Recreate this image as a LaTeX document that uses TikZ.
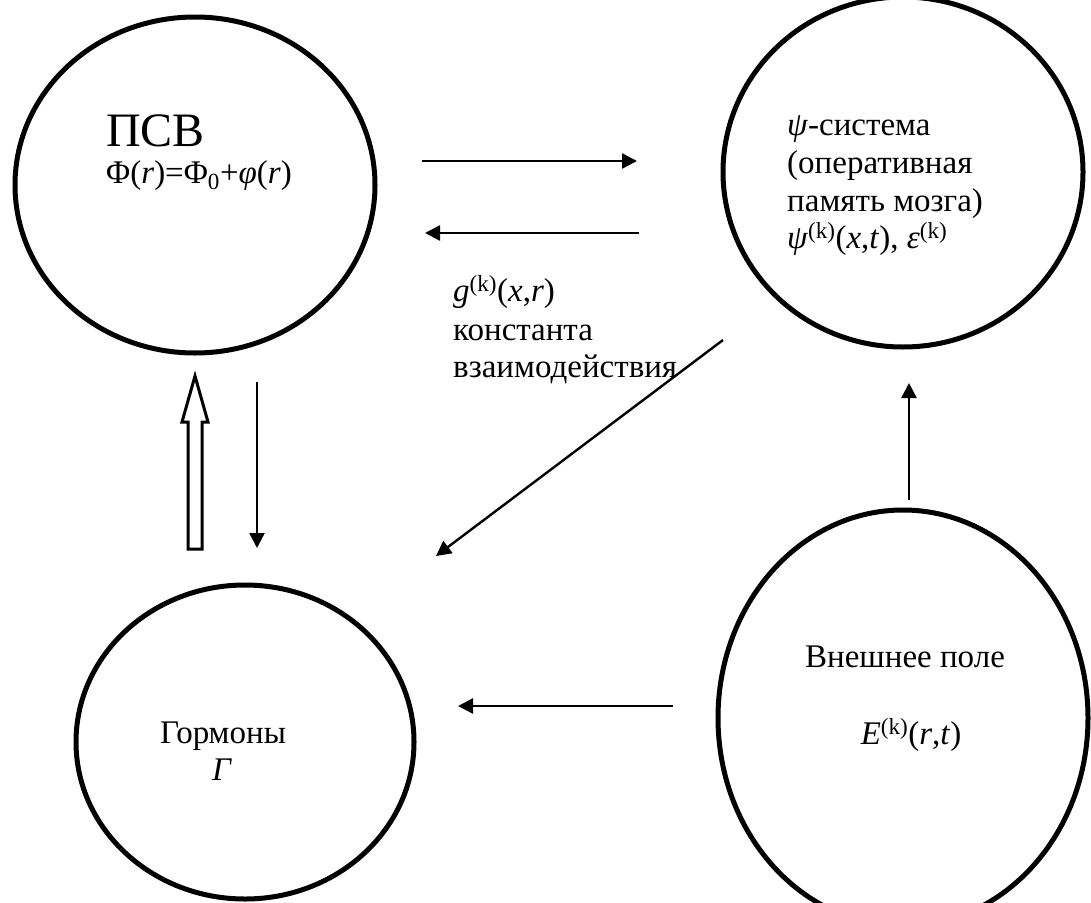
\documentclass[tikz,border=0pt]{standalone}
\usepackage{fontspec}
\setmainfont{Liberation Serif}
\usetikzlibrary{arrows.meta,shapes.geometric}
\begin{document}
\begin{tikzpicture}[x=1pt,y=-1pt,
  blob/.style={draw, ellipse, line width=5pt, inner sep=0pt},
  conn/.style={line width=2.4pt, -{Triangle[length=15pt,width=15pt]}},
  hollow/.style={draw, line width=3pt, line join=miter, fill=white},
  txt/.style={anchor=base west, inner sep=0pt, font=\fontsize{33}{38}\selectfont},
  ctxt/.style={anchor=base, inner sep=0pt, font=\fontsize{33}{38}\selectfont},
]
\useasboundingbox (0,0) rectangle (1091,902);

% circles
\node[blob, minimum width=360pt, minimum height=336pt] (psv) at (195,185) {};
\node[blob, minimum width=360pt, minimum height=350pt] (psi) at (903,172) {};
\node[blob, minimum width=338pt, minimum height=314pt] (horm) at (245,742) {};
\node[blob, minimum width=370pt, minimum height=416pt] (ext) at (903,718) {};

% texts
\node[txt, font=\fontsize{48}{50}\selectfont] (psvT) at (106,146) {ПСВ};
\node[txt] (psvF) at (106,183) {Φ(\textit{r})=Φ\textsubscript{0}+\textit{φ}(\textit{r})};

\node[txt] (psi1) at (787,135) {\textit{ψ}-система};
\node[txt] (psi2) at (787,173) {(оперативная};
\node[txt] (psi3) at (787,211) {память мозга)};
\node[txt] (psi4) at (787,248) {\textit{ψ}\textsuperscript{(k)}(\textit{x},\textit{t}), \textit{ε}\textsuperscript{(k)}};

\node[txt] (g1) at (453,301) {\textit{g}\textsuperscript{(k)}(\textit{x},\textit{r})};
\node[txt] (g2) at (453,340) {константа};
\node[txt] (g3) at (453,377) {взаимодействия};

\node[ctxt] (ext1) at (905,667) {Внешнее поле};
\node[ctxt] (ext2) at (911,744) {\textit{E}\textsuperscript{(k)}(\textit{r},\textit{t})};

\node[ctxt] (horm1) at (223,743) {Гормоны};
\node[ctxt] (horm2) at (222,780) {\textit{Г}};

% connector end points
\coordinate (a1s) at (422,161); \coordinate (a1e) at (637,161);
\coordinate (a2s) at (639,233); \coordinate (a2e) at (425,233);
\coordinate (dgs) at (723,340); \coordinate (dge) at (436,556);
\coordinate (dns) at (257,382); \coordinate (dne) at (257,548);
\coordinate (ups) at (909,500); \coordinate (upe) at (909,383);
\coordinate (lfs) at (673,706); \coordinate (lfe) at (458,706);
\coordinate (hb) at (195,549); \coordinate (ht) at (195,376);

\draw[conn] (a1s) -- (a1e);
\draw[conn] (a2s) -- (a2e);
\draw[conn] (dgs) -- (dge);
\draw[conn] (dns) -- (dne);
\draw[conn] (ups) -- (upe);
\draw[conn] (lfs) -- (lfe);

\draw[hollow] ([xshift=-7pt]hb) -- ([xshift=-7pt,yshift=-46pt]ht) -- ([xshift=-13pt,yshift=-46pt]ht) -- (ht) -- ([xshift=13pt,yshift=-46pt]ht) -- ([xshift=7pt,yshift=-46pt]ht) -- ([xshift=7pt]hb) -- cycle;
\end{tikzpicture}
\end{document}
